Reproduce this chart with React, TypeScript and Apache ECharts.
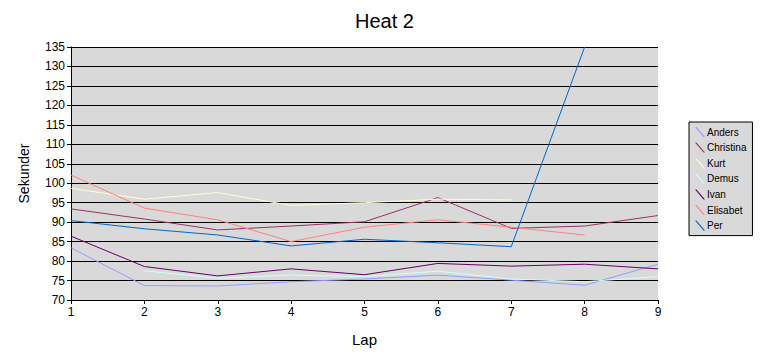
import React, { useEffect, useRef } from "react";
import * as echarts from "echarts";

const laps = ["1", "2", "3", "4", "5", "6", "7", "8", "9"];
const seriesNames = ["Anders", "Christina", "Kurt", "Demus", "Ivan", "Elisabet", "Per"];
const colors = ["#9999FF", "#993366", "#FFFFCC", "#CCFFFF", "#660066", "#FF8080", "#0066CC"];

const anders = [83.4, 73.7, 73.6, 74.7, 75.4, 76.4, 75.1, 73.8, 79.2];
const christina = [93.4, 90.8, 88.0, 89.0, 90.1, 96.3, 88.4, 89.0, 91.7];
const kurt = [98.7, 95.9, 97.6, 94.3, 95.0, 95.9, 95.7, null, null];
const demus = [null, 77.5, 75.6, 76.4, 76.0, 77.4, 75.4, 74.7, 76.0];
const ivan = [86.4, 78.6, 76.2, 78.0, 76.5, 79.4, 78.7, 79.2, 78.0];
const elisabet = [102.1, 93.6, 90.6, 85.0, 88.7, 90.6, 88.7, 86.7, null];
const per = [90.4, 88.3, 86.7, 83.9, 85.6, 84.7, 83.7, 135, null];

const allData = [anders, christina, kurt, demus, ivan, elisabet, per];

const yMin = 70;
const yMax = 135;
const yStep = 5;

export default function App() {
  const ref = useRef<HTMLDivElement>(null);
  useEffect(() => {
    if (!ref.current) return;
    const chart = echarts.init(ref.current, null, { renderer: "svg" });
    const font = "Liberation Sans, Arial, sans-serif";
    chart.setOption({
      animation: false,
      backgroundColor: "#FFFFFF",
      title: {
        text: "Heat 2",
        left: "center",
        top: 6,
        textStyle: { fontFamily: font, fontSize: 20, fontWeight: "normal", color: "#000" },
      },
      grid: { left: 71, right: 111, top: 47, bottom: 57, show: true, backgroundColor: "#D9D9D9", borderWidth: 0 },
      legend: {
        orient: "vertical",
        left: 689,
        top: 122,
        width: 50,
        padding: [5, 6, 5, 6],
        itemGap: 5.6,
        itemWidth: 10,
        itemHeight: 10,
        backgroundColor: "#D9D9D9",
        borderColor: "#000",
        borderWidth: 1,
        borderRadius: 0,
        icon: "path://M0,0L1.5,0L10,10L8.5,10Z",
        textStyle: { fontFamily: font, fontSize: 10, color: "#000", padding: [0, 0, 0, -3] },
        data: seriesNames,
      },
      xAxis: {
        type: "category",
        data: laps,
        boundaryGap: false,
        name: "Lap",
        nameLocation: "middle",
        nameGap: 32,
        nameTextStyle: { fontFamily: font, fontSize: 15, color: "#000" },
        axisLine: { lineStyle: { color: "#000", width: 1 } },
        axisTick: { show: true, length: 4, lineStyle: { color: "#000" } },
        axisLabel: { fontFamily: font, fontSize: 12, color: "#000", margin: 6 },
        splitLine: { show: false },
      },
      yAxis: {
        type: "value",
        min: yMin,
        max: yMax,
        interval: yStep,
        name: "Sekunder",
        nameLocation: "middle",
        nameGap: 40,
        nameTextStyle: { fontFamily: font, fontSize: 14, color: "#000" },
        axisLine: { show: true, lineStyle: { color: "#000", width: 1 } },
        axisTick: { show: true, length: 4, lineStyle: { color: "#000" } },
        axisLabel: { fontFamily: font, fontSize: 12, color: "#000", margin: 6 },
        splitLine: { show: true, lineStyle: { color: "#000", width: 1 } },
      },
      series: seriesNames.map((n, i) => ({
        name: n,
        type: "line",
        data: allData[i],
        symbol: "none",
        connectNulls: false,
        clip: true,
        itemStyle: { color: colors[i] },
        lineStyle: { color: colors[i], width: 1 },
      })),
    });
    return () => chart.dispose();
  }, []);
  return (
    <div
      ref={ref}
      style={{ position: "fixed", left: 0, top: 0, width: 769, height: 357 }}
    />
  );
}
